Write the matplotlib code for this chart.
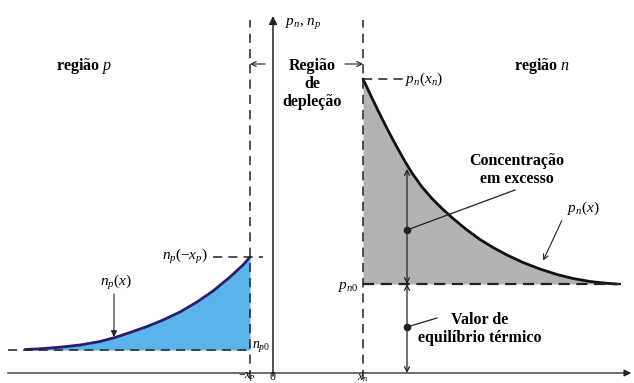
"""minority carrier concentrations on both sides of a p-n junction"""

import matplotlib
matplotlib.use("Agg")
import matplotlib.pyplot as plt

plt.rcParams['font.family'] = ['Liberation Serif', 'DejaVu Serif']
plt.rcParams['mathtext.fontset'] = 'custom'
plt.rcParams['mathtext.rm'] = 'Liberation Serif'
plt.rcParams['mathtext.it'] = 'Liberation Serif:italic'
plt.rcParams['mathtext.bf'] = 'Liberation Serif:bold'

###############################################################################
# data (arbitrary units, junction at x = 0)
###############################################################################
x_p = 23      # edge of depletion region on the p side
x_n = 90      # edge of depletion region on the n side

# electrons in the p region, n_p(x)
np_x = [-248, -233, -213, -193, -173, -158, -143, -126, -110, -93, -76,
        -60, -43, -30, -23]
np_y = [23.5, 24.2, 25.8, 28, 31.5, 35.5, 40.5, 46.5, 53, 61, 71,
        82, 96, 108, 116]
n_p0 = 23

# holes in the n region, p_n(x)
pn_x = [90, 99, 105, 112, 119, 125, 132, 139, 149, 159, 169, 180, 194,
        207, 220, 234, 250, 267, 284, 300, 317, 334, 344]
pn_y = [294, 275, 262.5, 248.5, 235, 224, 211.5, 200, 186, 174.5, 164.5,
        154.5, 143, 133.5, 125.5, 118, 110.5, 104, 98.5, 94.5, 91.5,
        89.7, 89]
p_n0 = 89

tick_pos = [-x_p, 0, x_n]
tick_labels = [r'$-x_p$', r'$0$', r'$x_n$']

###############################################################################
# figure
###############################################################################
fig = plt.figure(figsize=(6.34, 3.83), dpi=100)
ax = fig.add_axes([0, 0, 1, 1])
ax.set_xlim(-273, 361)
ax.set_ylim(-10, 373)
ax.axis('off')

ink = '#222222'
dash = dict(color=ink, lw=1.1, ls=(0, (6, 4)))

# axes with arrows
ax.plot([-265, 355], [0, 0], color='#444444', lw=1.1)
ax.annotate('', xy=(361, 0), xytext=(350, 0),
            arrowprops=dict(arrowstyle='-|>', color=ink, lw=1,
                            mutation_scale=10))
ax.annotate('', xy=(0, 357), xytext=(0, -3),
            arrowprops=dict(arrowstyle='-|>', color=ink, lw=1.1,
                            mutation_scale=12, shrinkA=0, shrinkB=0))

# depletion region boundaries
ax.plot([-x_p, -x_p], [-6, 353], **dash)
ax.plot([x_n, x_n], [-6, 353], **dash)

# p side: filled excess electrons
ax.fill_between(np_x, np_y, n_p0, color='#5ab4ea', lw=0)
ax.plot(np_x, np_y, color='#2b1d6b', lw=2, solid_capstyle='round')
ax.plot([-265, -x_p], [n_p0, n_p0], **dash)
ax.plot([-60, -10], [np_y[-1], np_y[-1]], **dash)

# n side: filled excess holes
ax.fill_between(pn_x, pn_y, p_n0, color='#b3b3b3', lw=0)
ax.plot(pn_x, pn_y, color='#111111', lw=2, solid_capstyle='round')
ax.plot([x_n, 348], [p_n0, p_n0], color=ink, lw=1.6, ls=(0, (5, 3)))
ax.plot([x_n, 130], [pn_y[0], pn_y[0]], **dash)

# region labels
bold = dict(fontsize=11.5, fontweight='bold', ha='center', va='center')
ax.text(-189, 307, r'região $p$', **bold)
ax.text(269, 307, r'região $n$', **bold)
ax.text(39, 289, 'Região\nde\ndepleção', linespacing=1.15, **bold)
ax.text(244, 203, 'Concentração\nem excesso', linespacing=1.15, **bold)
ax.text(207, 44, 'Valor de\nequilíbrio térmico', linespacing=1.15, **bold)

# depletion width arrows
thin = dict(arrowstyle='->', color=ink, lw=0.8, mutation_scale=9,
            shrinkA=0, shrinkB=0)
ax.annotate('', xy=(-x_p, 309), xytext=(-8, 309), arrowprops=thin)
ax.annotate('', xy=(x_n, 309), xytext=(72, 309), arrowprops=thin)

# excess / equilibrium double arrows
both = dict(arrowstyle='<->', color=ink, lw=0.9, mutation_scale=9,
            shrinkA=0, shrinkB=0)
ax.annotate('', xy=(134, 204), xytext=(134, p_n0), arrowprops=both)
ax.annotate('', xy=(134, p_n0), xytext=(134, 0), arrowprops=both)
ax.plot([134, 242], [143, 183], color=ink, lw=0.9)
ax.plot([134, 164], [46, 55], color=ink, lw=0.9)
ax.plot([134, 134], [143, 46], 'o', color=ink, ms=4.5)

# curve and level labels
lab = dict(fontsize=11)
ax.text(12, 349, r'$p_n$, $n_p$', ha='left', va='center', **lab)
ax.text(132, pn_y[0], r'$p_n(x_n)$', ha='left', va='center', **lab)
ax.text(86, p_n0 - 3, r'$p_{n0}$', ha='right', va='center', **lab)
ax.text(310, 165, r'$p_n(x)$', ha='center', va='center', **lab)
ax.annotate('', xy=(269, 110), xytext=(290, 155),
            arrowprops=dict(arrowstyle='->', color=ink, lw=0.8,
                            mutation_scale=9))
ax.text(-65, np_y[-1], r'$n_p(-x_p)$', ha='right', va='center', **lab)
ax.text(-21, n_p0 + 4, r'$n_{p0}$', ha='left', va='center', fontsize=10)
ax.text(-157, 91, r'$n_p(x)$', ha='center', va='center', **lab)
ax.annotate('', xy=(-159, 36), xytext=(-159, 79),
            arrowprops=dict(arrowstyle='-|>', color=ink, lw=0.8,
                            mutation_scale=9, shrinkA=0, shrinkB=0))

# position ticks along the bottom edge
for pos, txt in zip(tick_pos, tick_labels):
    ax.text(pos - 3 if pos < 0 else pos, -10.5, txt, ha='center',
            va='bottom', fontsize=8.5)

fig.savefig('out.png', dpi=100)
